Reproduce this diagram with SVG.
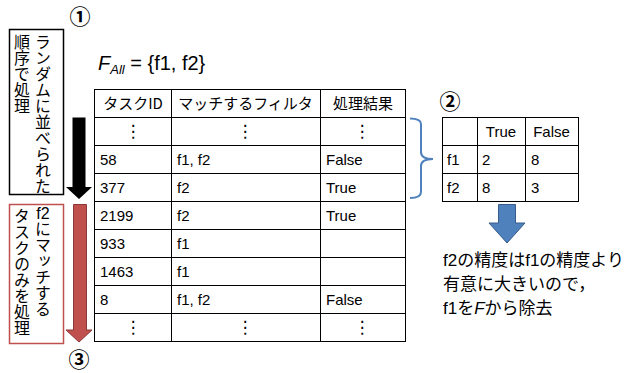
<svg xmlns="http://www.w3.org/2000/svg" width="629" height="373" viewBox="0 0 629 373">
<style>
text{font-family:"Liberation Sans","Noto Sans CJK JP",sans-serif;fill:#000}
.jp{font-family:"Noto Sans CJK JP",sans-serif}
.c{font-size:15px}
.v{font-family:"Noto Sans CJK JP",sans-serif;font-size:16px;writing-mode:vertical-rl}
.num{font-family:"Noto Sans CJK JP",sans-serif;font-size:21px;font-weight:bold;text-anchor:middle}
.grid{stroke:#000;stroke-width:1;fill:none}
.dots{font-family:"DejaVu Sans",sans-serif;font-size:17px;text-anchor:middle}
.mid{text-anchor:middle}
</style>
<rect width="629" height="373" fill="#fff"/>

<g id="step1-box">
<rect x="9.5" y="29.5" width="54" height="165" fill="#fff" stroke="#000" stroke-width="1.5"/>
<text class="v" x="43" y="34">ランダムに並べられた</text>
<text class="v" x="22" y="34">順序で処理</text>
</g>

<g id="step3-box">
<rect x="9.5" y="204.5" width="54" height="139" fill="#fff" stroke="#c0504d" stroke-width="1.5"/>
<text x="43" y="219" class="mid" font-size="16">f2</text>
<text class="v" x="43" y="221">にマッチする</text>
<text class="v" x="22" y="208">タスクのみを処理</text>
</g>

<g id="labels">
<text class="num" x="80" y="24">①</text>
<text class="num" x="450" y="109">②</text>
<text class="num" x="79" y="367">③</text>
<text x="98" y="70" font-size="20"><tspan font-style="italic">F</tspan><tspan font-style="italic" font-size="13" dy="4">All</tspan><tspan dy="-4"> = {f1, f2}</tspan></text>
</g>

<g id="main-table">
<rect x="94.5" y="89.5" width="311" height="252" class="grid"/>
<path class="grid" d="M171.5 89.5V341.5M320.5 89.5V341.5M94.5 117.5H405.5M94.5 145.5H405.5M94.5 173.5H405.5M94.5 201.5H405.5M94.5 229.5H405.5M94.5 257.5H405.5M94.5 285.5H405.5M94.5 313.5H405.5"/>
<text class="c jp mid" x="133" y="109">タスクID</text>
<text class="c jp mid" x="245.5" y="109">マッチするフィルタ</text>
<text class="c jp mid" x="363" y="109">処理結果</text>
<text class="dots" x="133" y="137">⋮</text>
<text class="dots" x="245" y="137">⋮</text>
<text class="dots" x="362" y="137">⋮</text>
<text class="c" x="100" y="165">58</text><text class="c" x="177" y="165">f1, f2</text><text class="c" x="326" y="165">False</text>
<text class="c" x="100" y="193">377</text><text class="c" x="177" y="193">f2</text><text class="c" x="326" y="193">True</text>
<text class="c" x="100" y="221">2199</text><text class="c" x="177" y="221">f2</text><text class="c" x="326" y="221">True</text>
<text class="c" x="100" y="249">933</text><text class="c" x="177" y="249">f1</text>
<text class="c" x="100" y="277">1463</text><text class="c" x="177" y="277">f1</text>
<text class="c" x="100" y="305">8</text><text class="c" x="177" y="305">f1, f2</text><text class="c" x="326" y="305">False</text>
<text class="dots" x="133" y="333">⋮</text>
<text class="dots" x="245" y="333">⋮</text>
<text class="dots" x="362" y="333">⋮</text>
</g>

<g id="result-table">
<rect x="442.5" y="117.5" width="136" height="84" class="grid"/>
<path class="grid" d="M477.5 117.5V201.5M525.5 117.5V201.5M442.5 145.5H578.5M442.5 173.5H578.5"/>
<text class="c mid" x="501" y="137">True</text>
<text class="c mid" x="551.5" y="137">False</text>
<text class="c" x="447" y="165">f1</text><text class="c" x="482" y="165">2</text><text class="c" x="531" y="165">8</text>
<text class="c" x="447" y="193">f2</text><text class="c" x="482" y="193">8</text><text class="c" x="531" y="193">3</text>
</g>

<g id="conclusion">
<text x="443" y="266" font-size="17">f2の精度はf1の精度より</text>
<text x="443" y="290" font-size="17">有意に大きいので，</text>
<text x="443" y="314" font-size="17">f1を<tspan font-style="italic">F</tspan>から除去</text>
</g>

<g id="connectors">
<path d="M410 118.5Q421 118.5 421 124V152Q421 159 433 159Q421 159 421 166V192Q421 198 410 198" fill="none" stroke="#4f81bd" stroke-width="2"/>
<path d="M72.5 117.5H85.5V187H92L79 199L66 187H72.5Z" fill="#000"/>
<path d="M73.5 204.5H86.5V330H92L79 342L66 330H73.5Z" fill="#c0504d" stroke="#8c3836" stroke-width="1"/>
<path d="M498.5 204.5H515.5V223H525L507 243L489 223H498.5Z" fill="#4f81bd" stroke="#385d8a" stroke-width="1"/>
</g>
</svg>
